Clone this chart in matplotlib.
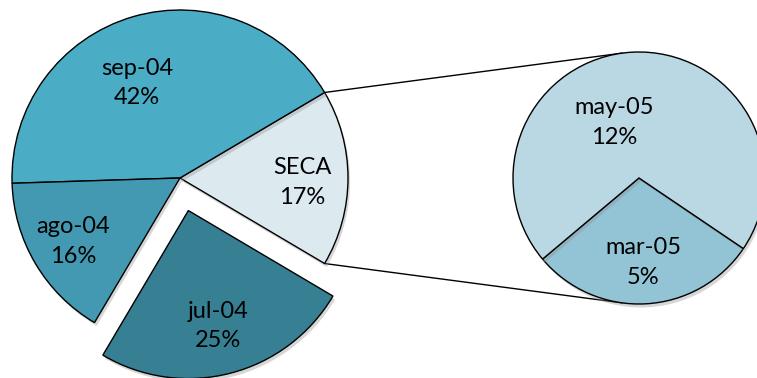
import numpy as np
import matplotlib.pyplot as plt
import matplotlib.patheffects as pe

# main pie (counterclockwise, starting with the grouped slice)
main_labels = ['SECA', 'sep-04', 'ago-04', 'jul-04']
main_values = [17, 42, 16, 25]
main_colors = ['#DCEAF0', '#4BACC6', '#4399B1', '#377F92']
main_explode = [0, 0, 0, 0.2]

# breakdown of the SECA slice
sub_labels = ['mar-05', 'may-05']
sub_values = [5, 12]
sub_colors = ['#93C4D5', '#B9D8E3']

W, H = 757, 378
dpi = 100
fig = plt.figure(figsize=(W / dpi, H / dpi), dpi=dpi)
ax = fig.add_axes([0, 0, 1, 1])

font = ['Lato', 'DejaVu Sans']
fs = 17
shadow = [pe.SimplePatchShadow(offset=(1.5, -2.5), shadow_rgbFace='0.55', alpha=0.35), pe.Normal()]

main_c = np.array([180.0, 200.0])
main_r = 168
sub_c = np.array([639.0, 200.0])
sub_r = 126

total = sum(main_values)
start = -main_values[0] / total * 180
# pie offsets exploded wedges in data units, so scale by the radius
wedges, _ = ax.pie(main_values, colors=main_colors,
                   explode=[e * main_r for e in main_explode],
                   startangle=start, counterclock=True, center=main_c, radius=main_r,
                   wedgeprops=dict(edgecolor='black', linewidth=1.0), frame=True)
for w in wedges:
    w.set_path_effects(shadow)

# label placement: distance as fraction of radius, angular nudge in degrees
main_ldist = [0.73, 0.62, 0.74, 0.71]
main_lshift = [-2, 8, 0, 0]
for w, lab, v, d, s in zip(wedges, main_labels, main_values, main_ldist, main_lshift):
    ang = np.deg2rad((w.theta1 + w.theta2) / 2 + s)
    cx, cy = w.center
    ax.text(cx + d * main_r * np.cos(ang), cy + d * main_r * np.sin(ang),
            f'{lab}\n{v}%', ha='center', va='center', fontsize=fs,
            family=font, linespacing=1.5, color='black')

sub_total = sum(sub_values)
sub_start = -87 - sub_values[0] / sub_total * 180
swedges, _ = ax.pie(sub_values, colors=sub_colors, startangle=sub_start,
                    counterclock=True, center=sub_c, radius=sub_r,
                    wedgeprops=dict(edgecolor='black', linewidth=1.0), frame=True)
for w in swedges:
    w.set_path_effects(shadow)

sub_ldist = [0.67, 0.48]
sub_lshift = [0, 21]
for w, lab, v, d, s in zip(swedges, sub_labels, sub_values, sub_ldist, sub_lshift):
    ang = np.deg2rad((w.theta1 + w.theta2) / 2 + s)
    ax.text(sub_c[0] + d * sub_r * np.cos(ang), sub_c[1] + d * sub_r * np.sin(ang),
            f'{lab}\n{v}%', ha='center', va='center', fontsize=fs,
            family=font, linespacing=1.5, color='black')

ax.set_xlim(0, W)
ax.set_ylim(0, H)
ax.set_aspect('equal')
ax.axis('off')

# connector lines: SECA slice corners to tangent points on the small pie
seca = wedges[0]
for theta, sign in [(seca.theta2, 1), (seca.theta1, -1)]:
    p = main_c + main_r * np.array([np.cos(np.deg2rad(theta)), np.sin(np.deg2rad(theta))])
    v = p - sub_c
    phi = np.arctan2(v[1], v[0])
    t = phi - sign * np.arccos(sub_r / np.hypot(*v))
    q = sub_c + sub_r * np.array([np.cos(t), np.sin(t)])
    ax.plot([p[0], q[0]], [p[1], q[1]], color='black', lw=1.0, zorder=0.5)

fig.savefig('out.png', dpi=dpi)
